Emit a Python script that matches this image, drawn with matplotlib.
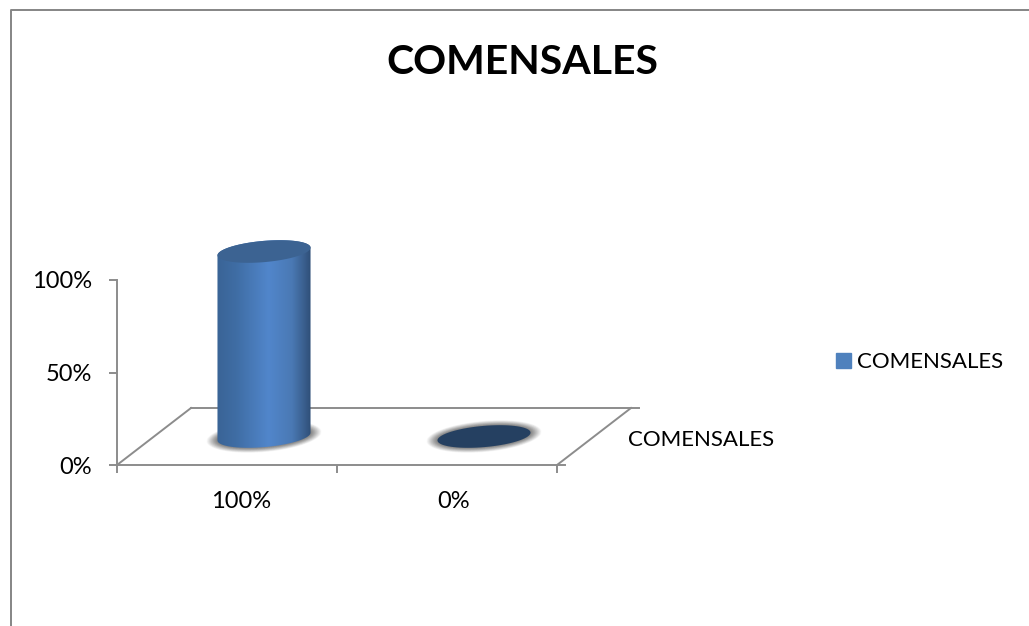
import numpy as np
import matplotlib
matplotlib.use("Agg")
import matplotlib.pyplot as plt
from matplotlib.colors import LinearSegmentedColormap
from matplotlib.lines import Line2D
from matplotlib.patches import Patch, Polygon

categorias = ["100%", "0%"]
valores = [1.0, 0.0]
serie = "COMENSALES"
y_ticks = [0, 0.5, 1.0]
y_labels = ["0%", "50%", "100%"]

W, H = 1029, 626
GRIS = "#8c8c8c"
AZUL = "#4f81bd"
TAPA = "#3c6392"
TAPA_CERO = "#254061"

plt.rcParams["font.family"] = ["Lato", "DejaVu Sans"]

fig = plt.figure(figsize=(W / 100, H / 100), dpi=100)

# marco del grafico: solo arriba y a la izquierda
fig.add_artist(Line2D([10.5 / W, 10.5 / W, 1], [0, 1 - 10 / H, 1 - 10 / H], color="#858585", lw=1.4))

x0, x1, y0, y1 = 117, 557, 465, 280
ax = fig.add_axes([x0 / W, 1 - y0 / H, (x1 - x0) / W, (y0 - y1) / H])
ax.set_xlim(0, 2)
ax.set_ylim(0, 1)
ax.patch.set_alpha(0)

px_x = 2 / (x1 - x0)
px_y = 1 / (y0 - y1)
fondo_x, fondo_y = 74 * px_x, 57 * px_y

for lado in ["top", "right"]:
    ax.spines[lado].set_visible(False)
for lado in ["left", "bottom"]:
    ax.spines[lado].set_color(GRIS)
    ax.spines[lado].set_linewidth(1.4)

ax.set_yticks(y_ticks)
ax.set_yticklabels(y_labels, fontsize=17)
ax.set_xticks([0, 1, 2])
ax.set_xticklabels([])
ax.tick_params(axis="both", color=GRIS, width=1.4, length=6, labelcolor="black")
ax.tick_params(axis="y", pad=12)

# piso en perspectiva
piso = dict(color=GRIS, lw=1.4, clip_on=False, zorder=1)
ax.plot([0, fondo_x], [0, fondo_y], **piso)
ax.plot([2, 2 + fondo_x], [0, fondo_y], **piso)
ax.plot([fondo_x, 2 + fondo_x + 8 * px_x], [fondo_y, fondo_y], **piso)
ax.plot([2, 2 + 8 * px_x], [0, 0], **piso)

A, B, ANG = 46.7, 10.6, np.radians(5)
t0 = np.arctan(-(B / A) * np.tan(ANG))


def elipse(cx, cy, t, a=A, b=B):
    # elipse inclinada, medida en pixeles y devuelta en datos
    dx = a * np.cos(t) * np.cos(ANG) - b * np.sin(t) * np.sin(ANG)
    dy = a * np.cos(t) * np.sin(ANG) + b * np.sin(t) * np.cos(ANG)
    return np.column_stack([cx + dx * px_x, cy + dy * px_y])


vuelta = np.linspace(0, 2 * np.pi, 120)
degradado = LinearSegmentedColormap.from_list(
    "cilindro",
    [(0, "#3a6496"), (0.2, "#3f6da4"), (0.55, "#5186cb"), (0.8, "#4a79b4"), (0.93, "#3a5f8e"), (1, "#2f4f78")],
)

for i, v in enumerate(valores):
    cx = i + 0.5 + fondo_x / 2
    cy = fondo_y / 2

    # sombra difusa bajo el cilindro
    for k in np.arange(11, 0, -0.5):
        ax.add_patch(Polygon(elipse(cx, cy, vuelta, A + k, B + k * 0.45), closed=True, fc="#555555",
                             ec="none", alpha=0.028 + 0.004 * (11 - k), clip_on=False, zorder=2))

    if v > 0:
        t = np.linspace(t0, t0 - 2 * np.pi, 240)
        cuerpo = np.vstack([elipse(cx, cy, t[:120]), elipse(cx, cy + v, t[120:])])
        ancho = A * px_x
        im = ax.imshow(np.linspace(0, 1, 200).reshape(1, -1), cmap=degradado, aspect="auto", zorder=3,
                       extent=[cx - ancho, cx + ancho, cy - 0.1, cy + v + 0.1])
        # el cilindro sobresale por encima del eje
        im.set_clip_box(fig.bbox)
        im.set_clip_path(Polygon(cuerpo, closed=True, transform=ax.transData))
    color = TAPA if v > 0 else TAPA_CERO
    ax.add_patch(Polygon(elipse(cx, cy + v, vuelta), closed=True, fc=color, ec="none", clip_on=False, zorder=4))

ax.set_xlim(0, 2)
ax.set_ylim(0, 1)

for x, etiqueta, dx in zip([0.5, 1.5], categorias, [14, 7]):
    ax.annotate(etiqueta, (x, 0), xytext=(dx * 0.72, -36 * 0.72), textcoords="offset points",
                ha="center", va="center", fontsize=17)

fig.text(701 / W, 1 - 440 / H, serie, ha="center", va="center", fontsize=16)
fig.text(522 / W, 1 - 62 / H, serie, ha="center", va="center", fontsize=29.5, fontweight="bold")

fig.legend(handles=[Patch(color=AZUL, label=serie)], loc="center left", bbox_to_anchor=(836 / W, 1 - 362.5 / H),
           frameon=False, fontsize=16, borderpad=0, borderaxespad=0, handlelength=0.68, handleheight=0.68,
           handletextpad=0.28)

fig.savefig("out.png", dpi=100)
